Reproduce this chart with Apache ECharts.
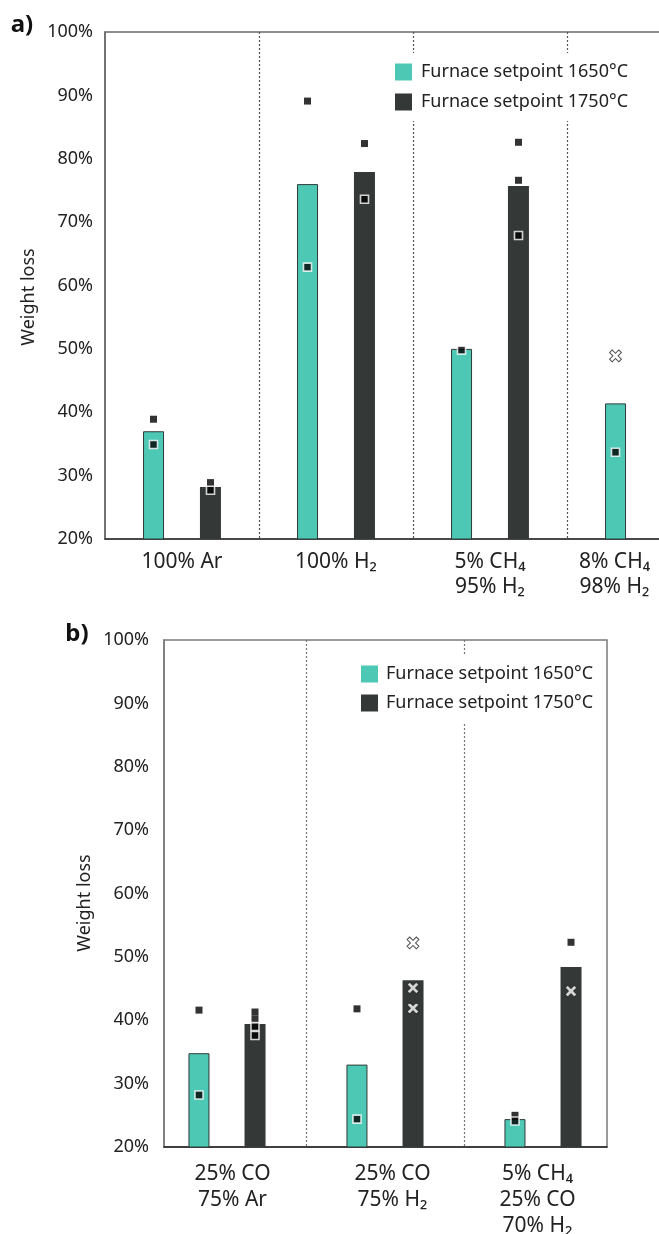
<!DOCTYPE html>
<html>
<head>
<meta charset="utf-8">
<script src="https://cdn.jsdelivr.net/npm/echarts@6/dist/echarts.min.js"></script>
<style>
  html, body { margin: 0; padding: 0; background: #fff; overflow: hidden; }
  #chart { width: 659px; height: 1234px; }
</style>
</head>
<body>
<div id="chart"></div>
<script>
// panel a)
var catsA = ['100% Ar', '100% H₂', '5% CH₄\n95% H₂', '8% CH₄\n98% H₂']
var barA1650 = [37.0, 76.0, 50.0, 41.4]
var barA1750 = [28.2, 77.9, 75.7, null]
var filledA1650 = [[0, 38.9], [1, 89.1]]
var openA1650 = [[0, 34.9], [1, 62.9], [2, 49.8], [3, 33.7]]
var crossA1650 = [[3, 48.9]]
var filledA1750 = [[0, 28.9], [1, 82.4], [2, 82.6], [2, 76.6]]
var openA1750 = [[0, 27.7], [1, 73.6], [2, 67.9]]

// panel b)
var catsB = ['25% CO\n75% Ar', '25% CO\n75% H₂', '5% CH₄\n25% CO\n70% H₂']
var barB1650 = [34.8, 33.0, 24.4]
var barB1750 = [39.4, 46.3, 48.4]
var filledB1650 = [[0, 41.6], [1, 41.8], [2, 25.0]]
var openB1650 = [[0, 28.2], [1, 24.4], [2, 24.1]]
var filledB1750 = [[0, 41.3], [0, 40.2], [2, 52.3]]
var openB1750 = [[0, 39.0], [0, 37.6]]
var crossB1750 = [[1, 52.2], [1, 45.1], [1, 41.9], [2, 44.6]]

var yTicks = [20, 100, 10]

var teal = '#4dc8b5'
var dark = '#343837'
var name1 = 'Furnace setpoint 1650°C'
var name2 = 'Furnace setpoint 1750°C'
var font = '"Noto Sans", "DejaVu Sans", sans-serif'
var crossPath = 'path://M3.6,0h2.8v3.6h3.6v2.8h-3.6v3.6h-2.8v-3.6h-3.6v-2.8h3.6z'

var myChart = echarts.init(document.getElementById('chart'))

function markers(data, kind, xi, yi, offset) {
  var s = {
    type: 'scatter',
    xAxisIndex: xi,
    yAxisIndex: yi,
    data: data,
    symbolOffset: [offset, 0],
    z: 5,
    silent: true
  }
  if (kind === 'filled') {
    s.symbol = 'rect'
    s.symbolSize = 7
    s.itemStyle = { color: '#000' }
  } else if (kind === 'open') {
    s.symbol = 'rect'
    s.symbolSize = 8
    s.itemStyle = { color: '#000', borderColor: '#fff', borderWidth: 1.6 }
  } else {
    s.symbol = crossPath
    s.symbolSize = 13
    s.symbolRotate = 45
    s.itemStyle = { color: '#fff', borderColor: '#222', borderWidth: 1 }
  }
  return s
}

function shiftLabels(cats, pads) {
  return cats.map(function (c, i) {
    return pads[i] ? { value: c, textStyle: { padding: pads[i] } } : c
  })
}

var yLabel = {
  fontSize: 18,
  color: '#222',
  fontFamily: font,
  formatter: '{value}%'
}

var legendBase = {
  orient: 'vertical', padding: 10,
  itemWidth: 17, itemHeight: 17, icon: 'rect', backgroundColor: '#fff',
  itemStyle: { borderWidth: 0 },
  data: [name1, name2],
  selectedMode: false
}

var option = {
  animation: false,
  backgroundColor: '#fff',
  textStyle: { fontFamily: font },
  grid: [
    { left: 105, top: 32, width: 616, height: 507, show: true, borderColor: '#6a6a6a', borderWidth: 1.5, outerBoundsMode: 'none' },
    { left: 164, top: 640, width: 443, height: 507, show: true, borderColor: '#7a7a7a', borderWidth: 1.5, outerBoundsMode: 'none' },
    { left: 148, top: 640, width: 474, height: 507, outerBoundsMode: 'none' }
  ],
  xAxis: [
    {
      type: 'category',
      gridIndex: 0,
      data: shiftLabels(catsA, [null, null, null, [0, 59, 0, 0]]),
      axisLine: { lineStyle: { color: '#333', width: 1.5 } },
      axisTick: { show: false },
      axisLabel: { fontSize: 21, color: '#222', lineHeight: 25, margin: 11, interval: 0 },
      splitLine: { show: true, showMinLine: false, showMaxLine: false, lineStyle: { color: '#555', type: [2, 2], width: 1.2 } }
    },
    {
      type: 'value',
      gridIndex: 1,
      axisLine: { show: true, onZero: false, lineStyle: { color: '#222', width: 1.5 } },
      axisTick: { show: false },
      axisLabel: { show: false },
      splitLine: { show: false }
    },
    {
      type: 'category',
      gridIndex: 2,
      data: shiftLabels(catsB, [[0, 0, 0, 11], [0, 0, 0, 15], [0, 11, 0, 0]]),
      axisLine: { show: false },
      axisTick: { show: false },
      axisLabel: { fontSize: 21, color: '#222', lineHeight: 26, margin: 14, interval: 0 },
      splitLine: { show: true, showMinLine: false, showMaxLine: false, lineStyle: { color: '#777', type: [2, 2], width: 1.2 } }
    }
  ],
  yAxis: [
    {
      type: 'value', gridIndex: 0, min: yTicks[0], max: yTicks[1], interval: yTicks[2],
      axisLine: { show: true, lineStyle: { color: '#6a6a6a', width: 1.5 } },
      axisTick: { show: false },
      axisLabel: Object.assign({ margin: 12 }, yLabel),
      splitLine: { show: false }
    },
    {
      type: 'value', gridIndex: 1, min: yTicks[0], max: yTicks[1], interval: yTicks[2],
      axisLine: { show: true, lineStyle: { color: '#7a7a7a', width: 1.5 } },
      axisTick: { show: false },
      axisLabel: Object.assign({ margin: 15 }, yLabel),
      splitLine: { show: false }
    },
    {
      type: 'value', gridIndex: 2, min: yTicks[0], max: yTicks[1], show: false
    }
  ],
  legend: [
    Object.assign({}, legendBase, {
      left: 385, top: 53, itemGap: 12,
      textStyle: { fontSize: 18, color: '#222', padding: [0, 0, 0, 4], lineHeight: 17 }
    }),
    Object.assign({}, legendBase, {
      left: 351, top: 655, itemGap: 11,
      textStyle: { fontSize: 18, color: '#222', padding: [0, 0, 0, 3], lineHeight: 17 }
    })
  ],
  graphic: [
    { type: 'text', x: 22, y: 25, style: { text: 'a)', font: 'bold 24px ' + font, fill: '#111', align: 'center', verticalAlign: 'middle' } },
    { type: 'text', x: 77, y: 634, style: { text: 'b)', font: 'bold 24px ' + font, fill: '#111', align: 'center', verticalAlign: 'middle' } },
    { type: 'text', x: 29, y: 297, rotation: Math.PI / 2, style: { text: 'Weight loss', font: '18px ' + font, fill: '#222', align: 'center', verticalAlign: 'middle' } },
    { type: 'text', x: 85, y: 903, rotation: Math.PI / 2, style: { text: 'Weight loss', font: '18px ' + font, fill: '#222', align: 'center', verticalAlign: 'middle' } }
  ],
  series: [
    {
      name: name1, type: 'bar', xAxisIndex: 0, yAxisIndex: 0, data: barA1650,
      barWidth: 21, barGap: '171%',
      itemStyle: { color: teal, borderColor: '#2e3a38', borderWidth: 1 }
    },
    {
      name: name2, type: 'bar', xAxisIndex: 0, yAxisIndex: 0, data: barA1750,
      barWidth: 21, barGap: '171%',
      itemStyle: { color: dark }
    },
    {
      name: name1, type: 'bar', xAxisIndex: 2, yAxisIndex: 2, data: barB1650,
      barWidth: 21, barGap: '167%',
      itemStyle: { color: teal, borderColor: '#2e3a38', borderWidth: 1 }
    },
    {
      name: name2, type: 'bar', xAxisIndex: 2, yAxisIndex: 2, data: barB1750,
      barWidth: 21, barGap: '167%',
      itemStyle: { color: dark }
    },
    markers(filledA1650, 'filled', 0, 0, -28.5),
    markers(openA1650, 'open', 0, 0, -28.5),
    markers(crossA1650, 'cross', 0, 0, -28.5),
    markers(filledA1750, 'filled', 0, 0, 28.5),
    markers(openA1750, 'open', 0, 0, 28.5),
    markers(filledB1650, 'filled', 2, 2, -28),
    markers(openB1650, 'open', 2, 2, -28),
    markers(filledB1750, 'filled', 2, 2, 28),
    markers(openB1750, 'open', 2, 2, 28),
    markers(crossB1750, 'cross', 2, 2, 28)
  ]
}

myChart.setOption(option)
</script>
</body>
</html>
